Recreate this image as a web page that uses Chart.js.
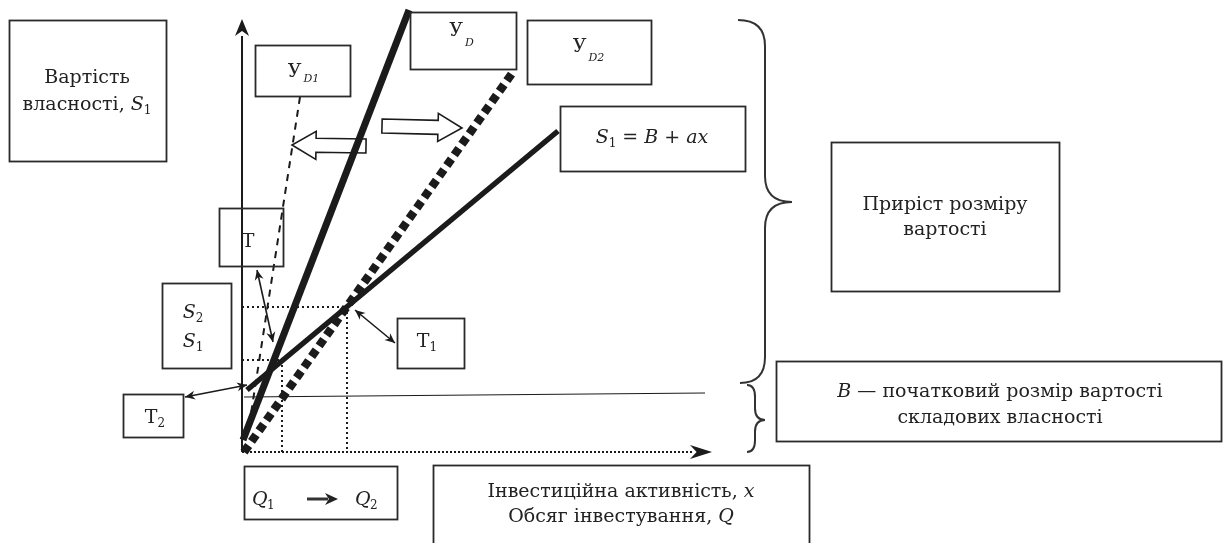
<!DOCTYPE html>
<html lang="uk">
<head>
  <meta charset="UTF-8">
  <title>Вартість власності та інвестиційна активність</title>
  <script src="https://cdn.jsdelivr.net/npm/chart.js"></script>
  <style>
    html, body { margin: 0; padding: 0; background: #fff; }
    #wrap { width: 1223px; height: 543px; position: relative; }
  </style>
</head>
<body>
  <div id="wrap"><canvas id="diagram"></canvas></div>

  <script>
    // diagram units: origin at the axes' corner, 1 unit = 10 px
    const yAxisX = [0, 0];        const yAxisY = [0, 41.6];
    const xAxisX = [0, 45.2];     const xAxisY = [0, 0];
    const ydX  = [0.1, 16.7];     const ydY  = [1.2, 44.2];   // У_D
    const yd2X = [0.2, 27.1];     const yd2Y = [0.0, 38.0];   // У_D2
    const yd1X = [5.8, 0.8];      const yd1Y = [35.5, 3.2];   // У_D1
    const s1X  = [0.5, 31.6];     const s1Y  = [6.2, 32.1];   // S1 = B + ax
    const bX   = [0.2, 46.3];     const bY   = [5.5, 5.9];    // B level
    const q2X  = [0, 10.5, 10.5]; const q2Y  = [14.5, 14.5, 0];
    const q1X  = [0, 4.0, 4.0];   const q1Y  = [9.2, 9.2, 0];

    const pts = (xs, ys) => xs.map((x, i) => ({ x, y: ys[i] }));

    // labelled boxes: [left, top, right, bottom]
    const boxes = [
      [-23.3, 43.2, -7.6, 29.1],
      [1.3, 40.7, 10.8, 35.6],
      [16.8, 44.0, 27.4, 38.3],
      [28.5, 43.2, 40.9, 36.8],
      [31.8, 34.6, 50.3, 28.1],
      [58.9, 31.0, 81.7, 16.1],
      [53.4, 9.1, 97.9, 1.1],
      [19.1, -1.3, 56.7, -9.8],
      [0.2, -1.4, 15.5, -6.7],
      [-2.3, 24.4, 4.1, 18.6],
      [-8.0, 16.9, -1.1, 8.4],
      [15.5, 13.4, 22.2, 8.4],
      [-11.9, 5.8, -5.9, 1.5]
    ];

    // text runs: [centerX, baseline, runs, subShift]; run = [text, style] (n normal, i italic, s subscript, si italic subscript)
    const labels = [
      [-15.5, 36.9, [['Вартість', 'n']]],
      [-15.5, 34.2, [['власності, ', 'n'], ['S', 'i'], ['1', 's']]],
      [6.05, 37.5, [['У', 'n'], ['D1', 'si']], 5],
      [21.85, 41.6, [['У', 'n'], ['D', 'si']], 10],
      [34.55, 40.0, [['У', 'n'], ['D2', 'si']], 9],
      [41.0, 30.9, [['S', 'i'], ['1', 's'], [' = ', 'n'], ['B', 'i'], [' + ', 'n'], ['ax', 'i']]],
      [70.3, 24.2, [['Приріст розміру', 'n']]],
      [70.3, 21.7, [['вартості', 'n']]],
      [75.8, 5.5, [['B', 'i'], [' — початковий розмір вартості', 'n']]],
      [75.8, 2.9, [['складових власності', 'n']]],
      [37.9, -4.5, [['Інвестиційна активність, ', 'n'], ['x', 'i']]],
      [37.9, -7.0, [['Обсяг інвестування, ', 'n'], ['Q', 'i']]],
      [0.6, 20.5, [['Т', 'n']]],
      [-4.9, 13.4, [['S', 'i'], ['2', 's']]],
      [-4.9, 10.5, [['S', 'i'], ['1', 's']]],
      [18.5, 10.5, [['Т', 'n'], ['1', 's']]],
      [-8.7, 2.9, [['Т', 'n'], ['2', 's']]]
    ];

    // double-headed pointers [x1, y1, x2, y2]
    const pointers = [
      [1.5, 18.2, 3.1, 11.0],
      [11.3, 14.2, 15.3, 10.9],
      [-5.7, 5.5, 0.5, 6.7]
    ];

    // hollow shift arrows [tailX, tailY, tipX, tipY]
    const shifts = [
      [12.4, 30.6, 5.0, 30.7],
      [14.0, 32.6, 22.0, 32.4]
    ];

    // braces [topX, topY, spineX, tipX, tipY, bottomX, bottomY]
    const braces = [
      [49.6, 43.2, 52.3, 55.0, 25.0, 49.8, 6.9],
      [50.5, 6.7, 51.3, 52.3, 3.2, 50.5, 0.0]
    ];

    const INK = '#1b1b1b';
    const SERIF = '"DejaVu Serif", "Liberation Serif", serif';

    function line(data, width, dash) {
      return {
        data, showLine: true, borderColor: INK, borderWidth: width,
        borderDash: dash || [], pointRadius: 0, borderCapStyle: 'butt', tension: 0
      };
    }

    function fontFor(style) {
      if (style === 's') return '12px ' + SERIF;
      if (style === 'si') return 'italic 11px ' + SERIF;
      if (style === 'i') return 'italic 19px ' + SERIF;
      return '19px ' + SERIF;
    }

    function headAt(ctx, x, y, ang, len, half) {
      ctx.beginPath();
      ctx.moveTo(x, y);
      ctx.lineTo(x - len * Math.cos(ang) + half * Math.sin(ang), y - len * Math.sin(ang) - half * Math.cos(ang));
      ctx.lineTo(x - len * Math.cos(ang) * 0.7, y - len * Math.sin(ang) * 0.7);
      ctx.lineTo(x - len * Math.cos(ang) - half * Math.sin(ang), y - len * Math.sin(ang) + half * Math.cos(ang));
      ctx.closePath();
      ctx.fill();
    }

    const decor = {
      id: 'decor',
      beforeDatasetsDraw(chart) {
        const { ctx, scales: { x, y } } = chart;
        const X = v => x.getPixelForValue(v), Y = v => y.getPixelForValue(v);
        ctx.save();
        // hollow shift arrows
        ctx.lineWidth = 1.6; ctx.strokeStyle = INK; ctx.fillStyle = '#fff';
        shifts.forEach(([tx, ty, hx, hy]) => {
          const x0 = X(tx), y0 = Y(ty), x1 = X(hx), y1 = Y(hy);
          const ang = Math.atan2(y1 - y0, x1 - x0), L = Math.hypot(x1 - x0, y1 - y0);
          ctx.save(); ctx.translate(x0, y0); ctx.rotate(ang);
          const hl = 24, sw = 7, hw = 14;
          ctx.beginPath();
          ctx.moveTo(0, -sw); ctx.lineTo(L - hl, -sw); ctx.lineTo(L - hl, -hw);
          ctx.lineTo(L, 0); ctx.lineTo(L - hl, hw); ctx.lineTo(L - hl, sw); ctx.lineTo(0, sw);
          ctx.closePath(); ctx.fill(); ctx.stroke();
          ctx.restore();
        });
        ctx.restore();
      },
      afterDatasetsDraw(chart) {
        const { ctx, scales: { x, y } } = chart;
        const X = v => x.getPixelForValue(v), Y = v => y.getPixelForValue(v);
        ctx.save();
        ctx.strokeStyle = '#2a2a2a'; ctx.lineWidth = 1.8;
        boxes.forEach(([l, t, r, b]) => {
          ctx.strokeRect(Math.round(X(l)) + 0.5, Math.round(Y(t)) + 0.5, Math.round(X(r) - X(l)), Math.round(Y(b) - Y(t)));
        });

        // axis arrowheads
        ctx.fillStyle = INK;
        headAt(ctx, X(0), Y(43.3), -Math.PI / 2, 17, 7);
        headAt(ctx, X(47.0), Y(0), 0, 22, 7);

        // double-headed pointers
        ctx.lineWidth = 1.6; ctx.strokeStyle = INK;
        pointers.forEach(([a, b, c, d]) => {
          const x0 = X(a), y0 = Y(b), x1 = X(c), y1 = Y(d);
          const ang = Math.atan2(y1 - y0, x1 - x0);
          ctx.beginPath(); ctx.moveTo(x0, y0); ctx.lineTo(x1, y1); ctx.stroke();
          headAt(ctx, x1, y1, ang, 10, 4.5);
          headAt(ctx, x0, y0, ang + Math.PI, 10, 4.5);
        });

        // braces
        ctx.lineWidth = 2; ctx.strokeStyle = '#333';
        braces.forEach(([tx, ty, sx, px, pyv, bx, by]) => {
          const x0 = X(tx), y0 = Y(ty), xs = X(sx), xp = X(px), yp = Y(pyv), x2 = X(bx), y2 = Y(by);
          const r = Math.min(26, (yp - y0) / 3);
          ctx.beginPath();
          ctx.moveTo(x0, y0);
          ctx.quadraticCurveTo(xs, y0, xs, y0 + r);
          ctx.lineTo(xs, yp - r);
          ctx.quadraticCurveTo(xs, yp, xp, yp);
          ctx.quadraticCurveTo(xs, yp, xs, yp + r);
          ctx.lineTo(xs, y2 - r);
          ctx.quadraticCurveTo(xs, y2, x2, y2);
          ctx.stroke();
        });

        // labels
        ctx.fillStyle = '#222'; ctx.textBaseline = 'alphabetic'; ctx.textAlign = 'left';
        labels.forEach(([cx, base, runs, subShift]) => {
          let w = 0;
          runs.forEach(([t, s]) => { ctx.font = fontFor(s); w += ctx.measureText(t).width; });
          let cur = X(cx) - w / 2;
          const by0 = Y(base);
          runs.forEach(([t, s]) => {
            ctx.font = fontFor(s);
            const dy = s === 's' ? 4 : (s === 'si' ? (subShift || 7) : 0);
            ctx.fillText(t, cur + (s === 'si' ? 2 : 0), by0 + dy);
            cur += ctx.measureText(t).width;
          });
        });

        // Q1 -> Q2
        const qy = Y(-5.3);
        ctx.font = 'italic 19px ' + SERIF; ctx.fillText('Q', X(1.0), qy);
        ctx.font = '12px ' + SERIF; ctx.fillText('1', X(2.5), qy + 4);
        ctx.font = 'italic 19px ' + SERIF; ctx.fillText('Q', X(11.3), qy);
        ctx.font = '12px ' + SERIF; ctx.fillText('2', X(12.8), qy + 4);
        ctx.lineWidth = 3;
        ctx.beginPath(); ctx.moveTo(X(6.5), qy - 6); ctx.lineTo(X(8.6), qy - 6); ctx.stroke();
        headAt(ctx, X(9.6), qy - 6, 0, 13, 6);
        ctx.restore();
      }
    };

    new Chart(document.getElementById('diagram'), {
      type: 'scatter',
      data: {
        datasets: [
          line(pts(yAxisX, yAxisY), 2),
          line(pts(xAxisX, xAxisY), 2.2, [2, 2]),
          line(pts(q2X, q2Y), 2, [2, 3]),
          line(pts(q1X, q1Y), 2, [2, 3]),
          line(pts(bX, bY), 1.2),
          line(pts(yd1X, yd1Y), 2, [7, 6]),
          line(pts(yd2X, yd2Y), 8.5, [8, 5]),
          line(pts(s1X, s1Y), 5.5),
          line(pts(ydX, ydY), 7)
        ]
      },
      options: {
        responsive: true,
        maintainAspectRatio: false,
        animation: false,
        layout: { padding: 0 },
        plugins: { legend: { display: false }, tooltip: { enabled: false } },
        scales: {
          x: { type: 'linear', display: false, min: -24.2, max: 98.1 },
          y: { type: 'linear', display: false, min: -9.1, max: 45.2 }
        }
      },
      plugins: [decor]
    });
  </script>
</body>
</html>
